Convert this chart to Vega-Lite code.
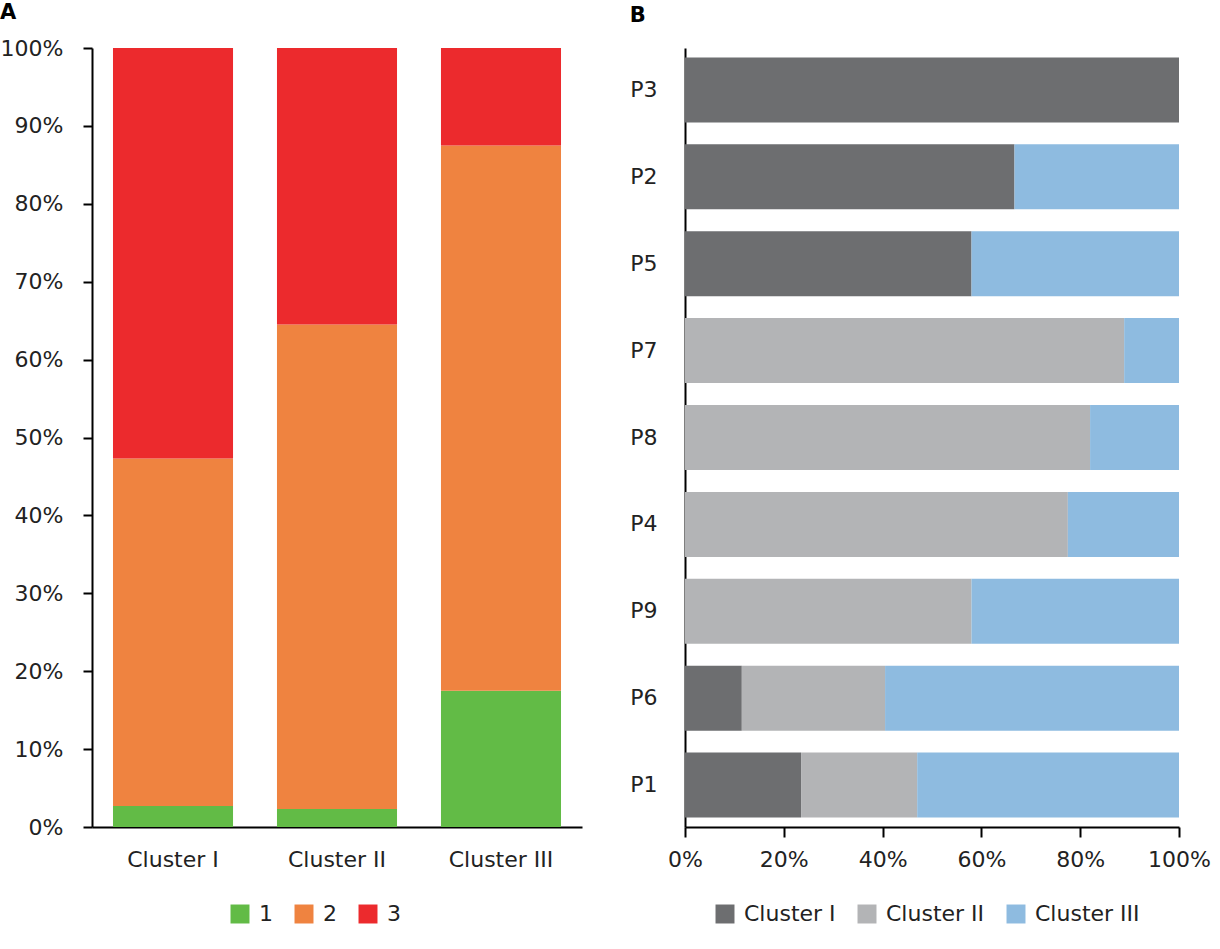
{
  "$schema": "https://vega.github.io/schema/vega-lite/v6.json",
  "padding": {"left": 0, "top": 2, "right": 5, "bottom": 5},
  "background": "white",
  "config": {
    "font": "DejaVu Sans",
    "view": {"stroke": null},
    "axis": {
      "labelFont": "DejaVu Sans",
      "labelFontSize": 22,
      "labelColor": "#222222",
      "labelFlush": false,
      "domainColor": "#000000",
      "domainWidth": 2,
      "tickColor": "#000000",
      "tickWidth": 2,
      "grid": false,
      "title": null
    },
    "legend": {
      "labelFont": "DejaVu Sans",
      "labelFontSize": 22,
      "labelColor": "#222222",
      "symbolType": "square",
      "symbolSize": 360,
      "symbolStrokeWidth": 0,
      "labelOffset": 8,
      "direction": "horizontal",
      "orient": "none",
      "title": null,
      "columnPadding": 20
    },
    "title": {"font": "DejaVu Sans", "fontSize": 21, "fontWeight": "bold", "anchor": "start", "color": "#000000", "frame": "bounds"}
  },
  "datasets": {
    "grades": [
      {"cluster": "Cluster I", "grade": "1", "share": 0.027},
      {"cluster": "Cluster I", "grade": "2", "share": 0.446},
      {"cluster": "Cluster I", "grade": "3", "share": 0.527},
      {"cluster": "Cluster II", "grade": "1", "share": 0.023},
      {"cluster": "Cluster II", "grade": "2", "share": 0.622},
      {"cluster": "Cluster II", "grade": "3", "share": 0.355},
      {"cluster": "Cluster III", "grade": "1", "share": 0.175},
      {"cluster": "Cluster III", "grade": "2", "share": 0.70},
      {"cluster": "Cluster III", "grade": "3", "share": 0.125}
    ],
    "patients": [
      {"patient": "P3", "cluster": "Cluster I", "share": 1.0},
      {"patient": "P2", "cluster": "Cluster I", "share": 0.667},
      {"patient": "P2", "cluster": "Cluster III", "share": 0.333},
      {"patient": "P5", "cluster": "Cluster I", "share": 0.58},
      {"patient": "P5", "cluster": "Cluster III", "share": 0.42},
      {"patient": "P7", "cluster": "Cluster II", "share": 0.889},
      {"patient": "P7", "cluster": "Cluster III", "share": 0.111},
      {"patient": "P8", "cluster": "Cluster II", "share": 0.82},
      {"patient": "P8", "cluster": "Cluster III", "share": 0.18},
      {"patient": "P4", "cluster": "Cluster II", "share": 0.775},
      {"patient": "P4", "cluster": "Cluster III", "share": 0.225},
      {"patient": "P9", "cluster": "Cluster II", "share": 0.58},
      {"patient": "P9", "cluster": "Cluster III", "share": 0.42},
      {"patient": "P6", "cluster": "Cluster I", "share": 0.115},
      {"patient": "P6", "cluster": "Cluster II", "share": 0.29},
      {"patient": "P6", "cluster": "Cluster III", "share": 0.595},
      {"patient": "P1", "cluster": "Cluster I", "share": 0.235},
      {"patient": "P1", "cluster": "Cluster II", "share": 0.235},
      {"patient": "P1", "cluster": "Cluster III", "share": 0.53}
    ]
  },
  "resolve": {"scale": {"color": "independent"}, "legend": {"color": "independent"}},
  "spacing": 47,
  "hconcat": [
    {
      "title": {"text": "A", "offset": 14},
      "width": 490,
      "height": 779,
      "data": {"name": "grades"},
      "mark": {"type": "bar"},
      "encoding": {
        "x": {
          "field": "cluster",
          "type": "nominal",
          "sort": ["Cluster I", "Cluster II", "Cluster III"],
          "scale": {"paddingInner": 0.268, "paddingOuter": 0.128},
          "axis": {"labelAngle": 0, "ticks": false, "labelPadding": 22}
        },
        "y": {
          "field": "share",
          "type": "quantitative",
          "stack": "zero",
          "scale": {"domain": [0, 1], "nice": false},
          "axis": {"format": ".0%", "values": [0, 0.1, 0.2, 0.3, 0.4, 0.5, 0.6, 0.7, 0.8, 0.9, 1.0], "tickSize": 9, "labelPadding": 20}
        },
        "color": {
          "field": "grade",
          "type": "nominal",
          "scale": {"domain": ["1", "2", "3"], "range": ["#62bb46", "#ef8340", "#ec2a2d"]},
          "legend": {"legendX": 137, "legendY": 855}
        },
        "order": {"field": "grade", "type": "ordinal"}
      }
    },
    {
      "title": {"text": "B", "offset": 22},
      "width": 494,
      "height": 779,
      "data": {"name": "patients"},
      "mark": {"type": "bar"},
      "encoding": {
        "y": {
          "field": "patient",
          "type": "nominal",
          "sort": ["P3", "P2", "P5", "P7", "P8", "P4", "P9", "P6", "P1"],
          "scale": {"paddingInner": 0.252, "paddingOuter": 0.108},
          "axis": {"ticks": false, "labelPadding": 28}
        },
        "x": {
          "field": "share",
          "type": "quantitative",
          "stack": "zero",
          "scale": {"domain": [0, 1], "nice": false},
          "axis": {"format": ".0%", "values": [0, 0.2, 0.4, 0.6, 0.8, 1.0], "tickSize": 10, "labelPadding": 12}
        },
        "color": {
          "field": "cluster",
          "type": "nominal",
          "scale": {"domain": ["Cluster I", "Cluster II", "Cluster III"], "range": ["#6d6e70", "#b3b4b6", "#8ebbe0"]},
          "legend": {"legendX": 29, "legendY": 855}
        },
        "order": {"field": "cluster", "type": "ordinal"}
      }
    }
  ]
}
